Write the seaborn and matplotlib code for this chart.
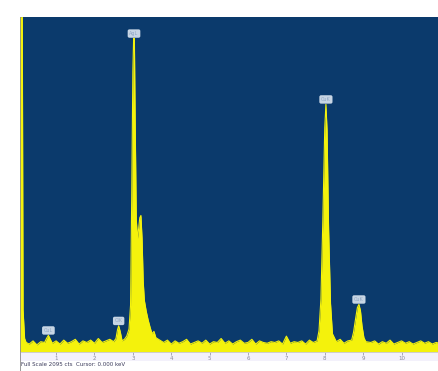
import matplotlib
matplotlib.use("Agg")
import matplotlib.pyplot as plt
import seaborn as sns
import pandas as pd
from matplotlib.lines import Line2D

sns.set_theme(style="white")
plt.rcParams["font.family"] = ["DejaVu Sans"]

# EDS spectrum, energy in keV and counts, read in segments
low_energy = [0.00, 0.05, 0.10, 0.12, 0.14, 0.18, 0.22, 0.30, 0.40, 0.50, 0.60, 0.70,
              0.75, 0.80, 0.85, 0.90, 1.00, 1.10, 1.20, 1.30, 1.40, 1.50, 1.60, 1.70,
              1.80, 1.90, 2.00, 2.10, 2.20, 2.30, 2.40, 2.50]
low_counts = [2095, 2095, 2095, 2095, 250, 70, 45, 35, 55, 30, 50, 45,
              70, 90, 65, 40, 55, 35, 60, 40, 50, 65, 35, 55,
              45, 60, 40, 70, 45, 55, 65, 50]

ag_energy = [2.56, 2.60, 2.63, 2.67, 2.72, 2.78, 2.84, 2.90, 2.94, 2.97, 3.00, 3.02,
             3.04, 3.06, 3.09, 3.12, 3.15, 3.18, 3.21, 3.24, 3.27, 3.30, 3.35, 3.40,
             3.45, 3.50, 3.55, 3.60, 3.70]
ag_counts = [70, 125, 150, 115, 55, 65, 85, 130, 280, 950, 1750, 1960,
             1960, 1450, 820, 700, 760, 830, 845, 700, 430, 310, 240, 185,
             140, 100, 115, 75, 60]

mid_energy = [3.8, 3.9, 4.0, 4.1, 4.2, 4.3, 4.4, 4.5, 4.6, 4.7, 4.8, 4.9, 5.0, 5.1,
              5.2, 5.3, 5.4, 5.5, 5.6, 5.7, 5.8, 5.9, 6.0, 6.1, 6.2, 6.3, 6.4, 6.5,
              6.6, 6.7, 6.8, 6.9, 7.0, 7.1, 7.2, 7.3, 7.4, 7.5, 7.6, 7.7]
mid_counts = [45, 60, 35, 55, 40, 50, 65, 35, 45, 55, 40, 60, 35, 50,
              45, 70, 40, 55, 35, 50, 60, 40, 45, 65, 35, 55, 45, 40,
              50, 45, 55, 35, 85, 40, 50, 45, 55, 35, 60, 45]

cu_energy = [7.80, 7.85, 7.90, 7.95, 8.00, 8.03, 8.06, 8.10, 8.15, 8.20, 8.30, 8.40,
             8.50, 8.60, 8.70, 8.75, 8.80, 8.85, 8.89, 8.93, 8.97, 9.02, 9.07]
cu_counts = [55, 120, 320, 820, 1400, 1545, 1380, 760, 290, 100, 50, 65,
             40, 55, 60, 110, 190, 265, 285, 245, 150, 75, 50]

high_energy = [9.2, 9.3, 9.4, 9.5, 9.6, 9.7, 9.8, 9.9, 10.0, 10.1, 10.2, 10.3, 10.4,
               10.5, 10.6, 10.7, 10.8, 10.9, 11.0]
high_counts = [45, 55, 35, 50, 40, 60, 35, 45, 55, 40, 50, 35, 45,
               55, 40, 50, 35, 45, 40]

# peak markers: label, energy, counts
peak_labels = ["CuL", "ClK", "AgL", "CuK", "CuK"]
peak_energy = [0.80, 2.63, 3.03, 8.03, 8.89]
peak_counts = [90, 150, 1960, 1545, 285]

tick_values = [1, 2, 3, 4, 5, 6, 7, 8, 9, 10]
full_scale = 2095

spectrum = pd.DataFrame({
    "energy": low_energy + ag_energy + mid_energy + cu_energy + high_energy,
    "counts": low_counts + ag_counts + mid_counts + cu_counts + high_counts,
})

NAVY = "#0b3a6c"
YELLOW = "#f4f20c"

fig = plt.figure(figsize=(4.38, 3.71), dpi=100)
fig.patch.set_facecolor("white")
ax = fig.add_axes([20 / 438, 19 / 371, 418 / 438, 335 / 371])
ax.set_facecolor(NAVY)

sns.lineplot(data=spectrum, x="energy", y="counts", ax=ax, color=YELLOW,
             linewidth=0.8, estimator=None, sort=False)
ax.fill_between(spectrum["energy"], -15, spectrum["counts"], color=YELLOW,
                linewidth=0)

for lab, e, c in zip(peak_labels, peak_energy, peak_counts):
    ax.text(e, c + 15, lab, fontsize=3.5, color="#8fa6c4", ha="center", va="bottom",
            bbox=dict(boxstyle="round,pad=0.35", fc="#dde7f2", ec="none", alpha=0.9))

ax.set_xlim(0.06, 10.95)
ax.set_ylim(-15, full_scale)
ax.set_xticks(tick_values)
ax.set_xticklabels([str(t) for t in tick_values])
ax.set_yticks([])
ax.set_xlabel("")
ax.set_ylabel("")
ax.tick_params(axis="x", direction="out", length=2, width=0.5, colors="#8a8a9a",
               labelsize=4, pad=1, bottom=True)
for side in ["top", "right"]:
    ax.spines[side].set_visible(False)
ax.spines["left"].set_color("#8a8a8a")
ax.spines["left"].set_linewidth(0.6)
ax.spines["bottom"].set_color("#c8c8d8")
ax.spines["bottom"].set_linewidth(0.6)

# tick-label strip and the left frame rule running to the foot
fig.patches.append(plt.Rectangle((20 / 438, 10 / 371), 418 / 438, 9 / 371,
                                 transform=fig.transFigure, fc="#f3f1fb", ec="none",
                                 zorder=-1))
fig.add_artist(Line2D([19.5 / 438, 19.5 / 438], [0, 19 / 371], color="#8a8a8a",
                      linewidth=0.6, transform=fig.transFigure))

fig.text(21 / 438, 4 / 371, "Full Scale 2095 cts  Cursor: 0.000 keV", fontsize=4,
         color="#3a3a5a", ha="left", va="bottom")

fig.savefig("out.png", dpi=100, facecolor="white")
